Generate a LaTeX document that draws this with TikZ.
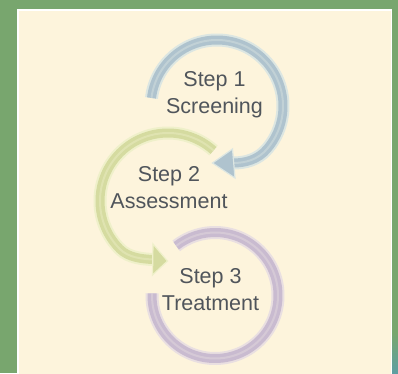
\documentclass[tikz,border=0pt]{standalone}
\usepackage{fontspec}
\setmainfont{Liberation Sans}
\definecolor{bggreen}{HTML}{78A66E}
\definecolor{bgteal}{HTML}{5E9FA2}
\definecolor{panel}{HTML}{FDF4DC}
\definecolor{txt}{HTML}{50555B}
\definecolor{blueA}{HTML}{AFC3CE}
\definecolor{blueL}{HTML}{DCE6E2}
\definecolor{greenA}{HTML}{D5DBA0}
\definecolor{greenL}{HTML}{EFF0CA}
\definecolor{purA}{HTML}{C9BBD0}
\definecolor{purL}{HTML}{E9DFE1}
\tikzset{
  tubeout/.style={line width=13pt, line cap=butt},
  tubein/.style={line width=9pt, line cap=butt},
  tubehl/.style={line width=2pt, line cap=butt, opacity=0.4},
  headfill/.style={line width=1.2pt, line join=miter},
  lbl/.style={font=\fontsize{21.5}{26.8}\selectfont, text=txt, align=center, anchor=base, inner sep=0pt},
}
\newcommand{\pathBlue}{(c1) ++(173:66) arc[start angle=173,end angle=-40,radius=66] .. controls (258,213) and (245,210) .. (233,210)}
\newcommand{\pathGreen}{(c2) ++(48:68) arc[start angle=48,end angle=225,radius=68] .. controls (128.4,115.4) and (142,114) .. (153,113.5)}
\newcommand{\pathPur}{(c3) ++(178:63) arc[start angle=178,end angle=488,radius=63]}
\begin{document}
\begin{tikzpicture}[x=1pt,y=1pt]
\useasboundingbox (0,0) rectangle (398,373);
\fill[bggreen] (0,0) rectangle (398,373);
\shade[top color=bggreen, bottom color=bgteal] (392,0) rectangle (398,40);
\fill[panel] (18,-5) rectangle (391.5,363);
\draw[white, line width=1.2pt] (18,-5) -- (18,363) -- (391.5,363) -- (391.5,-5);
\coordinate (c1) at (217,267);
\coordinate (c2) at (168,172);
\coordinate (c3) at (215,77.5);
% purple ring
\draw[tubeout, purL] \pathPur;
\draw[tubein, purA] \pathPur;
\draw[tubehl, purL] \pathPur;
% green arrow
\draw[tubeout, greenL] \pathGreen;
\draw[tubein, greenA] \pathGreen;
\draw[tubehl, greenL] \pathGreen;
\filldraw[headfill, fill=greenA, draw=greenL] (153,129) -- (167.5,112) -- (152.5,98) -- cycle;
% blue arrow
\draw[tubeout, blueL] \pathBlue;
\draw[tubein, blueA] \pathBlue;
\draw[tubehl, blueL] \pathBlue;
\filldraw[headfill, fill=blueA, draw=blueL] (232.5,224) -- (212.5,210) -- (235,195) -- cycle;
% labels
\node[lbl] (s1) at (214.5,259.7) {Step 1\\Screening};
\node[lbl] (s2) at (169,164.7) {Step 2\\Assessment};
\node[lbl] (s3) at (210.5,63) {Step 3\\Treatment};
\end{tikzpicture}
\end{document}
